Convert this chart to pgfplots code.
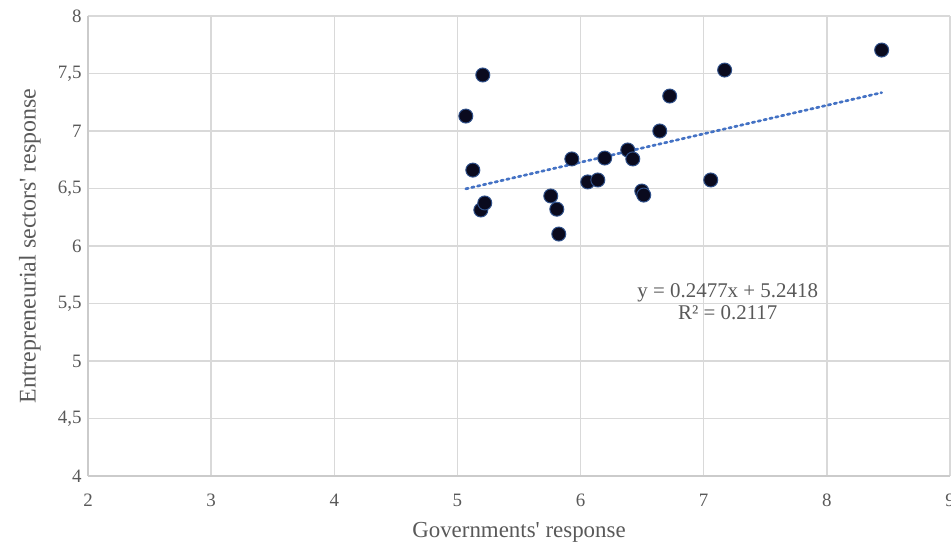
\documentclass[border=0pt]{standalone}
\usepackage{pgfplots}
\pgfplotsset{compat=1.18}
\usepackage{fontspec}
\setmainfont{Liberation Serif}
\definecolor{gridc}{RGB}{217,217,217}
\definecolor{txt}{RGB}{89,89,89}
\definecolor{trend}{RGB}{68,114,196}
\definecolor{mk}{RGB}{10,10,30}
\begin{document}
\begin{tikzpicture}[x=1bp,y=1bp]
\begin{axis}[
  at={(0,0)}, anchor=south west,
  width=862bp, height=460bp, scale only axis,
  xmin=2, xmax=9, ymin=4, ymax=8,
  xtick={2,3,...,9}, ytick={4,4.5,...,8},
  /pgf/number format/use comma,
  /pgf/number format/assume math mode=true,
  tick label style={font=\fontsize{19}{22}\selectfont, text=txt},
  grid=major, major grid style={gridc, line width=1.4bp},
  axis line style={gridc!85!gray, line width=1.4bp},
  axis x line*=bottom, axis y line*=left,
  tick style={draw=none},
  xlabel={Governments\textquotesingle{} response}, ylabel={Entrepreneurial sectors\textquotesingle{} response},
  label style={text=txt},
  xlabel style={font=\fontsize{23}{26}\selectfont, at={(axis description cs:0.5,0)}, anchor=center, yshift=-56bp},
  ylabel style={font=\fontsize{24}{26}\selectfont, at={(axis description cs:0,0.5)}, anchor=center, yshift=58bp},
  xticklabel style={anchor=center, yshift=-24bp},
  yticklabel style={anchor=east, xshift=-3bp},
  clip=false,
]
\addplot[only marks, mark=*, mark size=7bp, mark options={fill=mk, draw=trend!70!black, line width=1bp}] coordinates {
(5.068,7.13) (5.206,7.487) (5.125,6.66) (5.19,6.313) (5.222,6.374)
(5.758,6.435) (5.807,6.32) (5.823,6.104) (5.929,6.757) (6.058,6.557)
(6.14,6.574) (6.196,6.765) (6.383,6.835) (6.424,6.757) (6.497,6.478)
(6.513,6.443) (6.643,7.0) (6.724,7.304) (7.057,6.574) (7.17,7.53)
(8.445,7.704)
};
\addplot[trend, line width=2.7bp, dash pattern=on 2.5bp off 3.5bp, line cap=round] coordinates {(5.068,6.4971) (8.445,7.3336)};
\node[text=txt, font=\fontsize{21}{22}\selectfont, align=center] at (axis cs:7.195,5.513) {y = 0.2477x + 5.2418\\R² = 0.2117};
\coordinate (sw) at (rel axis cs:0,0);
\coordinate (ne) at (rel axis cs:1,1);
\end{axis}
\pgfresetboundingbox
\path[use as bounding box] ([xshift=-88bp,yshift=-67bp]sw) rectangle ([xshift=1bp,yshift=16bp]ne);
\end{tikzpicture}
\end{document}
